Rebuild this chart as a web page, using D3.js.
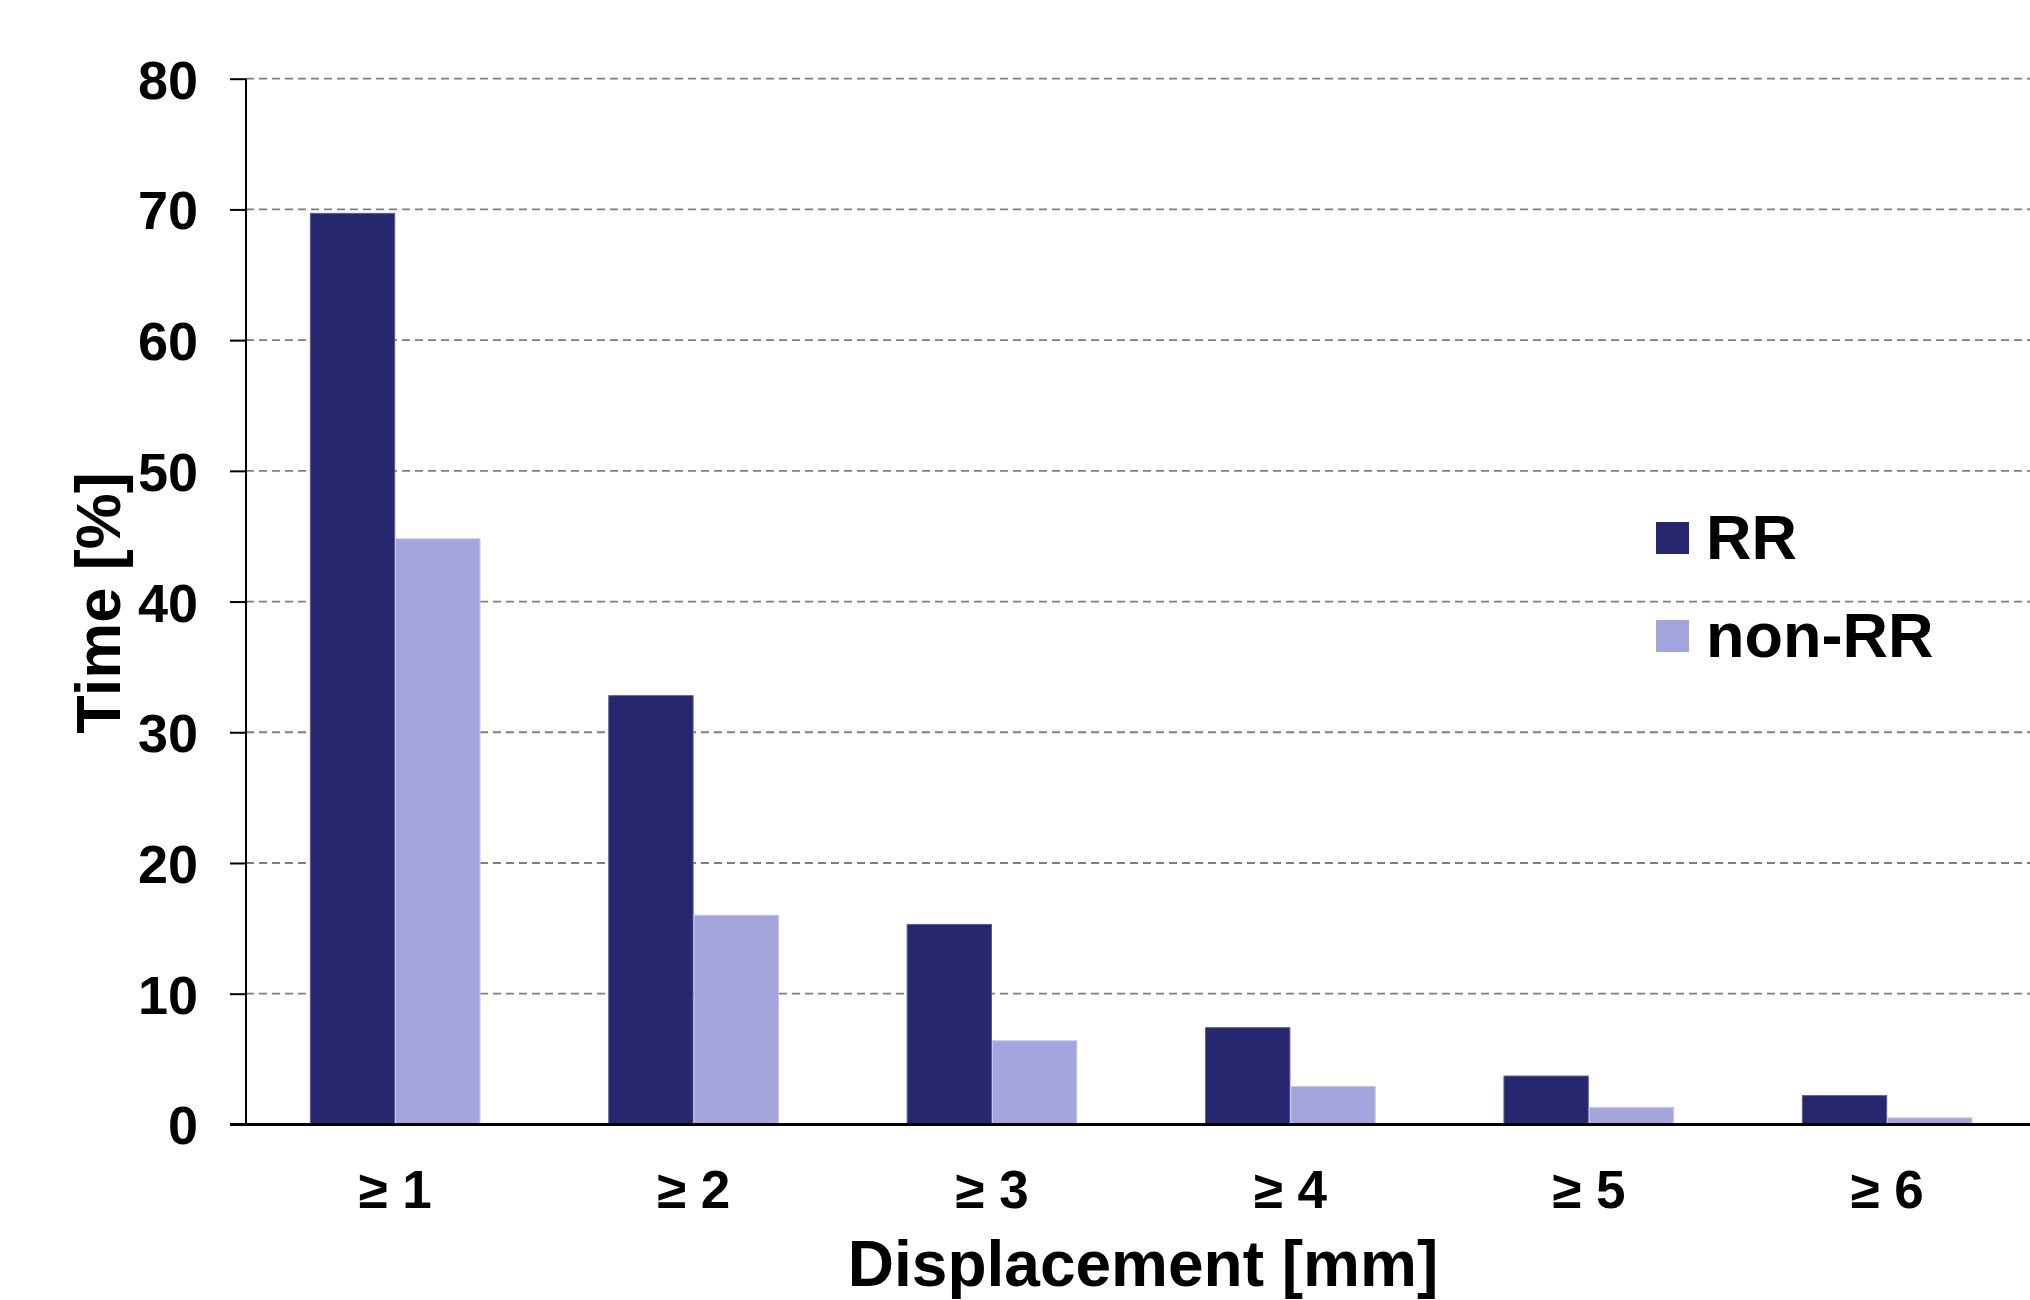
<!DOCTYPE html>
<html>
<head>
<meta charset="utf-8">
<script src="https://cdn.jsdelivr.net/npm/d3@7"></script>
<style>
  html, body { margin: 0; padding: 0; background: #fff; }
  svg { display: block; }
  text { font-family: "Liberation Sans", Arial, Helvetica, sans-serif; font-weight: bold; fill: #000; }
</style>
</head>
<body>
<svg id="chart" width="2030" height="1300"></svg>
<script>
const categories = ["≥ 1", "≥ 2", "≥ 3", "≥ 4", "≥ 5", "≥ 6"];
const seriesNames = ["RR", "non-RR"];
const rrValues = [69.7, 32.8, 15.3, 7.4, 3.7, 2.2];
const nonRrValues = [44.8, 16.0, 6.4, 2.9, 1.3, 0.5];
const yTicks = [0, 10, 20, 30, 40, 50, 60, 70, 80];
const xTitle = "Displacement [mm]";
const yTitle = "Time [%]";

const colors = { "RR": "#27276f", "non-RR": "#a5a5de" };
const strokes = { "RR": "#5c5c9c", "non-RR": "#c6c6ee" };

const svg = d3.select("#chart");
const plotLeft = 246, plotRight = 2030, plotTop = 78.7, plotBottom = 1124.4;

const x = d3.scaleBand().domain(categories).range([plotLeft, plotLeft + 6 * 298.4])
  .paddingInner(0.428).paddingOuter(0.214);
const xs = d3.scaleBand().domain(seriesNames).range([0, x.bandwidth()]).padding(0);
const y = d3.scaleLinear().domain([0, 80]).range([plotBottom, plotTop]);

// gridlines
svg.append("g").selectAll("line").data(yTicks.filter(d => d > 0)).join("line")
  .attr("x1", plotLeft).attr("x2", plotRight)
  .attr("y1", d => y(d)).attr("y2", d => y(d))
  .attr("stroke", "#7f7f7f").attr("stroke-width", 1.8)
  .attr("stroke-dasharray", "8,5");

// bars
const rows = categories.map((c, i) => ({ cat: c, vals: [
  { s: "RR", v: rrValues[i] }, { s: "non-RR", v: nonRrValues[i] } ] }));
const g = svg.append("g").selectAll("g").data(rows).join("g")
  .attr("transform", d => `translate(${x(d.cat)},0)`);
g.selectAll("rect").data(d => d.vals).join("rect")
  .attr("x", d => xs(d.s) + 0.5)
  .attr("width", xs.bandwidth() - 1)
  .attr("y", d => y(d.v))
  .attr("height", d => plotBottom - y(d.v))
  .attr("fill", d => colors[d.s])
  .attr("stroke", d => strokes[d.s]).attr("stroke-width", 1);

// y axis
const yAxis = d3.axisLeft(y).tickValues(yTicks).tickSize(16).tickPadding(32)
  .tickFormat(d3.format("d"));
const yg = svg.append("g").attr("transform", `translate(${plotLeft},0)`).call(yAxis);
yg.select(".domain").attr("stroke", "#000").attr("stroke-width", 2)
  .attr("d", `M0,${plotBottom}V${plotTop}`);
yg.selectAll(".tick line").attr("stroke", "#000").attr("stroke-width", 2);
yg.selectAll(".tick text").style("font-size", "54px").attr("dy", "0.36em")
  .style("font-family", "'Liberation Sans', Arial, sans-serif").style("font-weight", "bold");

// x axis baseline
svg.append("line").attr("x1", plotLeft - 16).attr("x2", plotRight)
  .attr("y1", plotBottom).attr("y2", plotBottom)
  .attr("stroke", "#000").attr("stroke-width", 3);

// x tick labels
const xAxis = d3.axisBottom(x).tickSize(0).tickPadding(0);
const xg = svg.append("g").attr("transform", `translate(0,${plotBottom})`).call(xAxis);
xg.select(".domain").remove();
xg.selectAll(".tick text").attr("y", 84).attr("dy", 0)
  .style("font-size", "53px")
  .style("font-family", "'Liberation Sans', Arial, sans-serif").style("font-weight", "bold");

// axis titles
svg.append("text").attr("x", 1143).attr("y", 1286).attr("text-anchor", "middle")
  .style("font-size", "64px").text(xTitle);
svg.append("text").attr("transform", "translate(120,603) rotate(-90)")
  .attr("text-anchor", "middle").style("font-size", "63px").text(yTitle);

// legend
const lg = svg.append("g").selectAll("g").data(seriesNames).join("g")
  .attr("transform", (d, i) => `translate(1656,${522 + i * 98})`);
lg.append("rect").attr("width", 33).attr("height", 32).attr("fill", d => colors[d]);
lg.append("text").attr("x", 50).attr("y", 37).style("font-size", "63px").text(d => d);
</script>
</body>
</html>
